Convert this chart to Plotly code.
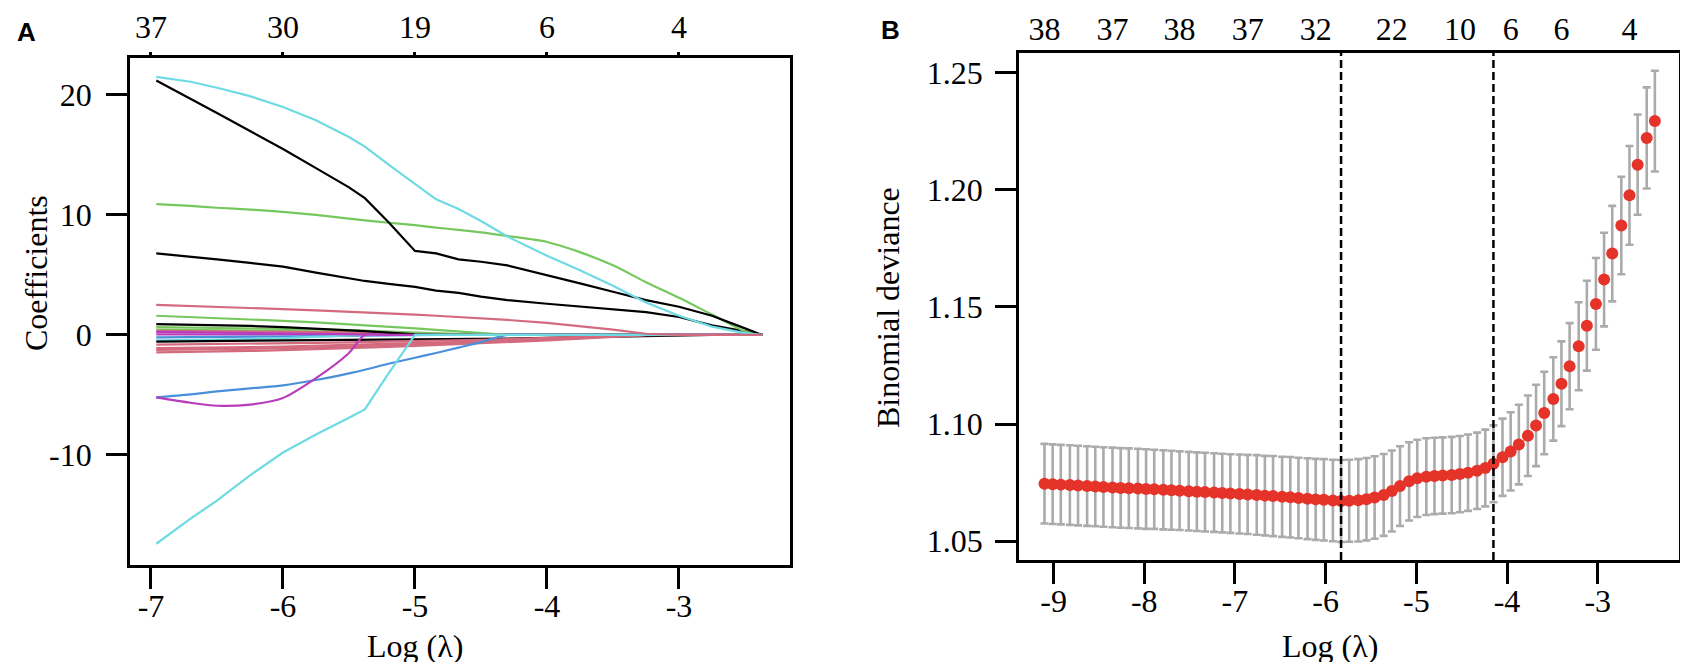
import plotly.graph_objects as go

# ---------------- Panel A: coefficient paths ----------------
a_x = [-6.96, -6.7, -6.5, -6.25, -6.0, -5.75, -5.5, -5.38, -5.2, -5.0, -4.84,
       -4.67, -4.5, -4.3, -4.0, -3.75, -3.5, -3.25, -3.0, -2.75, -2.5, -2.37]

cyan_top = [21.5, 21.1, 20.6, 19.9, 19.0, 17.9, 16.5, 15.7, 14.2, 12.6, 11.3,
            10.5, 9.5, 8.2, 6.6, 5.4, 4.1, 2.7, 1.6, 0.7, 0.15, 0.0]
black_top = [21.2, 19.7, 18.5, 17.0, 15.5, 13.9, 12.3, 11.4, 9.4, 7.0, 6.8,
             6.3, 6.1, 5.8, 5.0, 4.3, 3.6, 2.9, 2.35, 1.6, 0.55, 0.0]
green_top = [10.9, 10.75, 10.6, 10.45, 10.25, 10.0, 9.7, 9.55, 9.35, 9.15, 8.95,
             8.75, 8.55, 8.25, 7.75, 6.9, 5.8, 4.4, 3.1, 1.7, 0.3, 0.0]
black_mid = [6.8, 6.55, 6.3, 6.0, 5.7, 5.2, 4.7, 4.5, 4.25, 4.0, 3.7,
             3.5, 3.2, 2.9, 2.6, 2.35, 2.15, 1.9, 1.5, 0.8, 0.3, 0.0]
cyan_bottom = [-17.4, -15.3, -13.8, -11.7, -9.8, -8.3, -6.9, -6.2, -3.2, 0.0, 0.0,
               0.0, 0.0, 0.0, 0.0, 0.0, 0.0, 0.0, 0.0, 0.0, 0.0, 0.0]
blue_low = [-5.2, -4.95, -4.7, -4.45, -4.2, -3.75, -3.2, -2.9, -2.4, -1.9, -1.5,
            -1.05, -0.6, 0.0, 0.0, 0.0, 0.0, 0.0, 0.0, 0.0, 0.0, 0.0]
magenta_low = [-5.2, -5.65, -5.9, -5.8, -5.25, -3.6, -1.5, 0.0, 0.0, 0.0, 0.0,
               0.0, 0.0, 0.0, 0.0, 0.0, 0.0, 0.0, 0.0, 0.0, 0.0, 0.0]
pink_pos = [2.5, 2.42, 2.35, 2.25, 2.15, 2.05, 1.95, 1.9, 1.8, 1.7, 1.6,
            1.5, 1.4, 1.25, 1.0, 0.75, 0.45, 0.1, 0.0, 0.0, 0.0, 0.0]
green_small = [1.6, 1.5, 1.42, 1.3, 1.18, 1.05, 0.9, 0.82, 0.7, 0.55, 0.42,
               0.28, 0.12, 0.0, 0.0, 0.0, 0.0, 0.0, 0.0, 0.0, 0.0, 0.0]
black_small = [0.9, 0.86, 0.82, 0.75, 0.66, 0.54, 0.4, 0.32, 0.2, 0.05, 0.0,
               0.0, 0.0, 0.0, 0.0, 0.0, 0.0, 0.0, 0.0, 0.0, 0.0, 0.0]
green_small2 = [0.65, 0.62, 0.6, 0.56, 0.52, 0.47, 0.4, 0.36, 0.3, 0.22, 0.15,
                0.08, 0.0, 0.0, 0.0, 0.0, 0.0, 0.0, 0.0, 0.0, 0.0, 0.0]
green_small3 = [0.45, 0.43, 0.41, 0.38, 0.34, 0.29, 0.22, 0.18, 0.1, 0.02, 0.0,
                0.0, 0.0, 0.0, 0.0, 0.0, 0.0, 0.0, 0.0, 0.0, 0.0, 0.0]
pink_small0 = [0.35, 0.34, 0.33, 0.31, 0.28, 0.25, 0.21, 0.19, 0.15, 0.1, 0.06,
               0.02, 0.0, 0.0, 0.0, 0.0, 0.0, 0.0, 0.0, 0.0, 0.0, 0.0]
magenta_small = [0.25, 0.23, 0.21, 0.18, 0.14, 0.09, 0.03, 0.0, 0.0, 0.0, 0.0,
                 0.0, 0.0, 0.0, 0.0, 0.0, 0.0, 0.0, 0.0, 0.0, 0.0, 0.0]
magenta_small2 = [0.05, 0.05, 0.04, 0.03, 0.02, 0.01, 0.0, 0.0, 0.0, 0.0, 0.0,
                  0.0, 0.0, 0.0, 0.0, 0.0, 0.0, 0.0, 0.0, 0.0, 0.0, 0.0]
blue_small = [-0.2, -0.19, -0.18, -0.16, -0.13, -0.09, -0.05, -0.03, 0.0, 0.0, 0.0,
              0.0, 0.0, 0.0, 0.0, 0.0, 0.0, 0.0, 0.0, 0.0, 0.0, 0.0]
cyan_small = [-0.45, -0.42, -0.39, -0.34, -0.27, -0.18, -0.08, 0.0, 0.0, 0.0, 0.0,
              0.0, 0.0, 0.0, 0.0, 0.0, 0.0, 0.0, 0.0, 0.0, 0.0, 0.0]
black_neg = [-0.55, -0.53, -0.52, -0.5, -0.48, -0.46, -0.44, -0.43, -0.41, -0.39, -0.37,
             -0.35, -0.33, -0.3, -0.25, -0.2, -0.14, -0.08, 0.0, 0.0, 0.0, 0.0]
pink_neg1 = [-0.8, -0.78, -0.76, -0.73, -0.7, -0.66, -0.62, -0.6, -0.56, -0.52, -0.48,
             -0.44, -0.4, -0.34, -0.25, -0.15, -0.05, 0.0, 0.0, 0.0, 0.0, 0.0]
pink_neg2 = [-1.1, -1.08, -1.05, -1.01, -0.96, -0.9, -0.84, -0.81, -0.76, -0.7, -0.65,
             -0.6, -0.54, -0.47, -0.35, -0.22, -0.09, 0.0, 0.0, 0.0, 0.0, 0.0]
pink_neg3 = [-1.25, -1.22, -1.19, -1.15, -1.1, -1.04, -0.97, -0.93, -0.87, -0.8, -0.74,
             -0.68, -0.61, -0.53, -0.4, -0.26, -0.11, 0.0, 0.0, 0.0, 0.0, 0.0]
pink_neg4 = [-1.45, -1.42, -1.38, -1.33, -1.27, -1.2, -1.12, -1.07, -1.0, -0.92, -0.85,
             -0.78, -0.7, -0.6, -0.45, -0.3, -0.14, -0.02, 0.0, 0.0, 0.0, 0.0]

a_top_vals = [-7, -6, -5, -4, -3]
a_top_text = ["37", "30", "19", "6", "4"]
a_bot_vals = [-7, -6, -5, -4, -3]
a_bot_text = ["-7", "-6", "-5", "-4", "-3"]
a_y_vals = [-10, 0, 10, 20]
a_y_text = ["-10", "0", "10", "20"]

# ---------------- Panel B: cross-validation curve ----------------
b_loglam = [-9.10, -9.01, -8.92, -8.82, -8.73, -8.63, -8.54, -8.45, -8.35, -8.26,
            -8.17, -8.07, -7.98, -7.89, -7.79, -7.70, -7.61, -7.51, -7.42, -7.33,
            -7.23, -7.14, -7.05, -6.95, -6.86, -6.76, -6.67, -6.58, -6.48, -6.39,
            -6.30, -6.20, -6.11, -6.02, -5.92, -5.83, -5.74, -5.64, -5.55, -5.46,
            -5.36, -5.27, -5.18, -5.08, -4.99, -4.89, -4.80, -4.71, -4.61, -4.52,
            -4.43, -4.33, -4.24, -4.15, -4.05, -3.96, -3.87, -3.77, -3.68, -3.59,
            -3.49, -3.40, -3.31, -3.21, -3.12, -3.02, -2.93, -2.84, -2.74, -2.65,
            -2.56, -2.46, -2.37]
b_dev = [1.0745, 1.0743, 1.0741, 1.0739, 1.0737, 1.0735, 1.0733, 1.0731, 1.0729, 1.0727,
         1.0726, 1.0724, 1.0722, 1.0721, 1.0719, 1.0717, 1.0715, 1.0713, 1.0711, 1.0709,
         1.0707, 1.0705, 1.0703, 1.0701, 1.0699, 1.0697, 1.0694, 1.0692, 1.0689, 1.0687,
         1.0684, 1.0681, 1.0678, 1.0676, 1.0673, 1.0671, 1.0672, 1.0674, 1.0679, 1.0686,
         1.0697, 1.0714, 1.0735, 1.0755, 1.0768, 1.0775, 1.0778, 1.0780, 1.0782, 1.0786,
         1.0792, 1.0800, 1.0812, 1.0830, 1.0858, 1.0883, 1.0912, 1.0950, 1.0994, 1.1047,
         1.1107, 1.1172, 1.1247, 1.1332, 1.1420, 1.1513, 1.1617, 1.1728, 1.1848, 1.1977,
         1.2108, 1.2222, 1.2294]
b_se = [0.0170, 0.0170, 0.0170, 0.0170, 0.0170, 0.0170, 0.0170, 0.0170, 0.0170, 0.0170,
        0.0170, 0.0170, 0.0170, 0.0169, 0.0169, 0.0169, 0.0168, 0.0168, 0.0168, 0.0168,
        0.0168, 0.0168, 0.0168, 0.0169, 0.0169, 0.0170, 0.0170, 0.0171, 0.0171, 0.0172,
        0.0172, 0.0173, 0.0173, 0.0174, 0.0174, 0.0175, 0.0175, 0.0176, 0.0176, 0.0176,
        0.0175, 0.0173, 0.0170, 0.0167, 0.0165, 0.0164, 0.0163, 0.0163, 0.0163, 0.0163,
        0.0163, 0.0163, 0.0164, 0.0164, 0.0165, 0.0167, 0.0170, 0.0172, 0.0174, 0.0176,
        0.0178, 0.0181, 0.0184, 0.0188, 0.0192, 0.0196, 0.0200, 0.0204, 0.0208, 0.0211,
        0.0214, 0.0216, 0.0215]
b_vlines = [-5.83, -4.15]
b_top_vals = [-9.10, -8.35, -7.61, -6.86, -6.11, -5.27, -4.52, -3.96, -3.40, -2.65]
b_top_text = ["38", "37", "38", "37", "32", "22", "10", "6", "6", "4"]
b_bot_vals = [-9, -8, -7, -6, -5, -4, -3]
b_bot_text = ["-9", "-8", "-7", "-6", "-5", "-4", "-3"]
b_y_vals = [1.05, 1.10, 1.15, 1.20, 1.25]
b_y_text = ["1.05", "1.10", "1.15", "1.20", "1.25"]

assert len(b_loglam) == len(b_dev) == len(b_se)

# ---------------- styling ----------------
BLACK = "#000000"
PINK = "#D46A7E"
GREEN = "#76C85E"
BLUE = "#4A8FDA"
CYAN = "#6EDBE2"
MAGENTA = "#B83CBC"

paths = [
    (green_small3, GREEN, "linear"), (magenta_small2, MAGENTA, "linear"),
    (blue_small, BLUE, "linear"), (cyan_small, CYAN, "linear"),
    (pink_small0, PINK, "linear"), (magenta_small, MAGENTA, "linear"),
    (green_small2, GREEN, "linear"), (black_small, BLACK, "linear"),
    (green_small, GREEN, "linear"), (black_neg, BLACK, "linear"),
    (pink_neg1, PINK, "linear"), (pink_neg2, PINK, "linear"),
    (pink_neg3, PINK, "linear"), (pink_neg4, PINK, "linear"),
    (blue_low, BLUE, "spline"), (magenta_low, MAGENTA, "spline"),
    (cyan_bottom, CYAN, "linear"), (black_mid, BLACK, "linear"),
    (green_top, GREEN, "spline"), (black_top, BLACK, "linear"),
    (cyan_top, CYAN, "linear"), (pink_pos, PINK, "linear"),
]

W, H = 1688, 662
SERIF = "Liberation Serif"
FS = 32


def px_x(p):
    return p / W


def px_y(p):
    return 1 - p / H


fig = go.Figure()

for vals, col, shape in paths:
    fig.add_trace(go.Scatter(x=a_x, y=vals, mode="lines",
                             line=dict(color=col, width=2.2, shape=shape, smoothing=0.8),
                             xaxis="x", yaxis="y", showlegend=False,
                             hoverinfo="skip"))
fig.add_trace(go.Scatter(x=a_top_vals, y=[None] * len(a_top_vals), mode="lines",
                         xaxis="x2", yaxis="y", showlegend=False, hoverinfo="skip"))

fig.add_trace(go.Scatter(
    x=b_loglam, y=b_dev, mode="markers",
    marker=dict(color="#E5332A", size=12, line=dict(width=0)),
    error_y=dict(type="data", array=b_se, visible=True, color="#ABABAB",
                 thickness=2.6, width=4),
    xaxis="x3", yaxis="y3", showlegend=False, hoverinfo="skip"))
fig.add_trace(go.Scatter(x=b_top_vals, y=[None] * len(b_top_vals), mode="lines",
                         xaxis="x4", yaxis="y3", showlegend=False, hoverinfo="skip"))

for v in b_vlines:
    fig.add_shape(type="line", xref="x3", yref="y3 domain", x0=v, x1=v, y0=0, y1=1,
                  line=dict(color="black", width=2.5, dash="8px,4px"), layer="above")

tickfont = dict(family=SERIF, size=FS, color="black")
axis_common = dict(showgrid=False, zeroline=False, showline=True, linecolor="black",
                   linewidth=2.7, tickfont=tickfont, tickcolor="black", tickwidth=2.7,
                   ticks="outside", tickmode="array", automargin=False)

a_dom_x = [px_x(122), px_x(782)]
a_dom_y = [px_y(557), px_y(50)]
b_dom_x = [px_x(1011), px_x(1671)]
b_dom_y = [px_y(552), px_y(45)]
a_xrange = [-7.159, -2.159]
b_xrange = [-9.381, -2.104]

fig.update_layout(
    template="none",
    width=W, height=H, autosize=False,
    margin=dict(l=0, r=0, t=0, b=0, pad=0),
    paper_bgcolor="white", plot_bgcolor="white",
    xaxis=dict(axis_common, domain=a_dom_x, range=a_xrange, anchor="y",
               tickvals=a_bot_vals, ticktext=a_bot_text, ticklen=21, mirror=True,
               ticklabelstandoff=-10),
    xaxis2=dict(axis_common, overlaying="x", side="top", anchor="y", range=a_xrange,
                tickvals=a_top_vals, ticktext=a_top_text, ticklen=5, showline=False,
                ticklabelstandoff=1),
    yaxis=dict(axis_common, domain=a_dom_y, range=[-19.17, 23.08], anchor="x",
               tickvals=a_y_vals, ticktext=a_y_text, ticklen=21, mirror=True,
               ticklabelstandoff=8),
    xaxis3=dict(axis_common, domain=b_dom_x, range=b_xrange, anchor="y3",
                tickvals=b_bot_vals, ticktext=b_bot_text, ticklen=21, mirror=True,
                ticklabelstandoff=-10),
    xaxis4=dict(axis_common, overlaying="x3", side="top", anchor="y3", range=b_xrange,
                tickvals=b_top_vals, ticktext=b_top_text, ticks="", showline=False,
                ticklabelstandoff=6),
    yaxis3=dict(axis_common, domain=b_dom_y, range=[1.0419, 1.2585], anchor="x3",
                tickvals=b_y_vals, ticktext=b_y_text, ticklen=21, mirror=True,
                ticklabelstandoff=6),
)

ann_font = dict(family=SERIF, size=FS, color="black")
ann_common = dict(xref="paper", yref="paper", showarrow=False,
                  xanchor="center", yanchor="middle")
fig.add_annotation(ann_common, text="<b>A</b>", x=px_x(18), y=px_y(24),
                   font=dict(family="Liberation Sans", size=26, color="black"))
fig.add_annotation(ann_common, text="<b>B</b>", x=px_x(882), y=px_y(22),
                   font=dict(family="Liberation Sans", size=26, color="black"))
fig.add_annotation(ann_common, text="Coefficients", x=px_x(28), y=px_y(265),
                   textangle=-90, font=ann_font)
fig.add_annotation(ann_common, text="Binomial deviance", x=px_x(880), y=px_y(300),
                   textangle=-90, font=ann_font)
fig.add_annotation(ann_common, text="Log (λ)", x=px_x(407), y=px_y(638), font=ann_font)
fig.add_annotation(ann_common, text="Log (λ)", x=px_x(1322), y=px_y(638), font=ann_font)

fig.write_html("out.html")
